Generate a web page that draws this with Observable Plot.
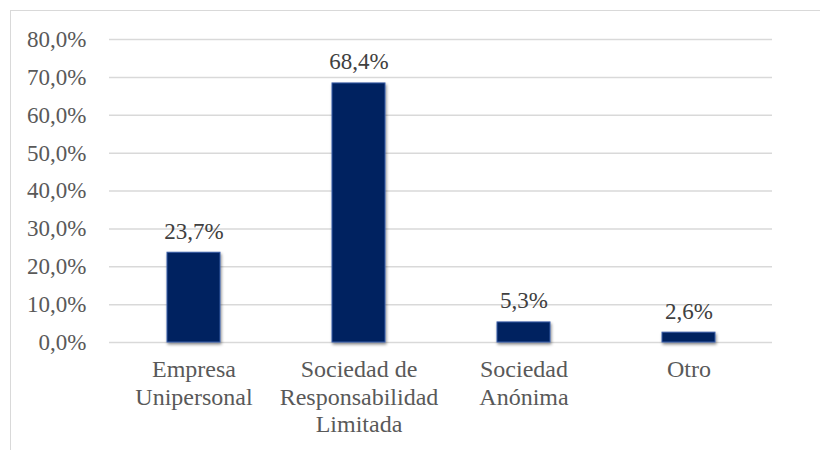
<!DOCTYPE html>
<html>
<head>
<meta charset="utf-8">
<script src="https://cdn.jsdelivr.net/npm/d3@7"></script>
<script src="https://cdn.jsdelivr.net/npm/@observablehq/plot@0.6"></script>
<style>
  html, body { margin: 0; padding: 0; background: #fff; }
  #wrap { position: relative; width: 820px; height: 450px; overflow: hidden; }
  #wrap::before {
    content: ""; position: absolute; left: 10px; top: 10px; width: 900px; height: 600px;
    border-left: 1.5px solid #d9d9d9; border-top: 1.5px solid #d9d9d9; pointer-events: none;
  }
</style>
</head>
<body>
<div id="wrap"></div>
<script>
const categories = ["Empresa Unipersonal", "Sociedad de Responsabilidad Limitada", "Sociedad Anónima", "Otro"];
const categoryLabels = ["Empresa\nUnipersonal", "Sociedad de\nResponsabilidad\nLimitada", "Sociedad\nAnónima", "Otro"];
const values = [23.7, 68.4, 5.3, 2.6];
const yTicks = [0, 10, 20, 30, 40, 50, 60, 70, 80];

const data = categories.map((c, i) => ({category: c, value: values[i]}));
const labelOf = new Map(categories.map((c, i) => [c, categoryLabels[i]]));
const fmt = v => v.toFixed(1).replace(".", ",") + "%";
const FONT = "Liberation Serif";

const chart = Plot.plot({
  width: 820,
  height: 450,
  marginLeft: 109,
  marginRight: 48,
  marginTop: 39,
  marginBottom: 108,
  style: {fontSize: "23px", background: "transparent"},
  x: {domain: categories, paddingInner: 0.68, paddingOuter: 0.34, label: null},
  y: {domain: [0, 80], label: null},
  marks: [
    Plot.ruleY(yTicks, {stroke: "#d9d9d9", strokeWidth: 1.5, strokeOpacity: 1}),
    Plot.axisY({ticks: yTicks, tickSize: 0, tickPadding: 23, tickFormat: fmt, fill: "#595959", fontSize: 23, fontFamily: FONT, label: null}),
    Plot.axisX({tickSize: 0, tickPadding: 15, tickFormat: d => labelOf.get(d), fill: "#595959", fontSize: 24, fontFamily: FONT, lineHeight: 1.15, label: null}),
    Plot.barY(data, {x: "category", y: "value", fill: "#002060", stroke: "#3a5ea8", strokeWidth: 1}),
    Plot.text(data, {x: "category", y: "value", text: d => fmt(d.value), lineAnchor: "bottom", dy: -14, fill: "#404040", fontSize: 23, fontFamily: FONT})
  ]
});

// drop shadow for bars (styling only)
const svg = d3.select(chart);
const defs = svg.insert("defs", ":first-child");
const f = defs.append("filter").attr("id", "barShadow").attr("x", "-20%").attr("y", "-20%").attr("width", "150%").attr("height", "150%");
f.append("feDropShadow").attr("dx", 1).attr("dy", 2).attr("stdDeviation", 1.8).attr("flood-color", "#000").attr("flood-opacity", 0.45);
svg.selectAll('g[aria-label="bar"]').attr("filter", "url(#barShadow)");

document.getElementById("wrap").appendChild(chart);
</script>
</body>
</html>
